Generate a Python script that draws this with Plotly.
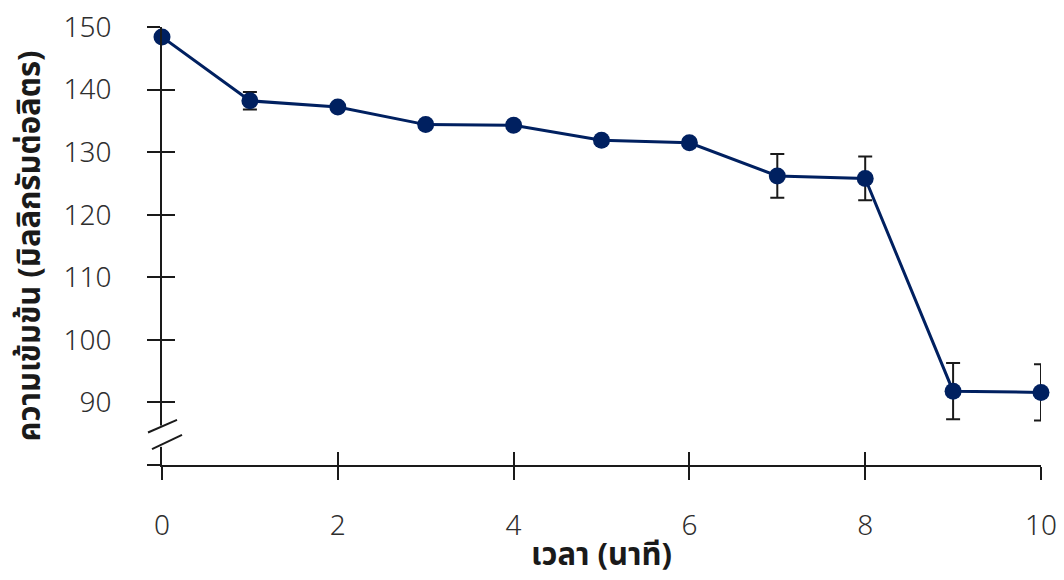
import plotly.graph_objects as go

# Concentration over time (mean ± SD)
time_min = [0, 1, 2, 3, 4, 5, 6, 7, 8, 9, 10]
conc_mg_l = [148.4, 138.2, 137.2, 134.4, 134.3, 131.9, 131.5, 126.2, 125.8, 91.8, 91.6]
conc_sd = [0.6, 1.4, 0.5, 0.5, 0.5, 0.5, 0.5, 3.5, 3.5, 4.5, 4.5]

x_ticks = [0, 2, 4, 6, 8, 10]
y_ticks = [80, 90, 100, 110, 120, 130, 140, 150]
y_tick_text = ["", "90", "100", "110", "120", "130", "140", "150"]

# y range starts at 80 with a broken-axis marker just above it
Y_MIN, Y_MAX = 80, 150
BREAK_LO, BREAK_HI = 82.9, 86.3

NAVY = "#002060"
AXIS = "#1a1a1a"
TICK_FONT = dict(family="Noto Sans, sans-serif", size=28, color="#2e2e2e", weight=300)
TITLE_FONT = dict(family="Noto Sans Thai, Noto Sans, sans-serif", size=31, color="#1a1a1a")


def to_paper(v):
    """Convert a y value to paper units (y axis spans the full domain)."""
    return (v - Y_MIN) / (Y_MAX - Y_MIN)


fig = go.Figure()

fig.add_trace(go.Scatter(
    x=time_min, y=conc_mg_l,
    mode="lines+markers",
    line=dict(color=NAVY, width=3),
    marker=dict(color=NAVY, size=17),
    error_y=dict(type="data", array=conc_sd, visible=True,
                 color=AXIS, thickness=2, width=7),
    cliponaxis=False,
    showlegend=False,
))

# invisible trace to host the secondary (inside-tick) axes
fig.add_trace(go.Scatter(x=[time_min[0]], y=[Y_MIN], xaxis="x2", yaxis="y2",
                         mode="markers", marker=dict(opacity=0),
                         showlegend=False, hoverinfo="skip"))

tick_style = dict(showgrid=False, zeroline=False, tickcolor=AXIS, tickwidth=2,
                  ticklen=13, automargin=False)

fig.update_layout(
    width=1064, height=580,
    margin=dict(l=162, r=23, t=27, b=115),
    paper_bgcolor="white", plot_bgcolor="white",
    xaxis=dict(range=[0, 10], tickvals=x_ticks, ticks="outside", showline=True,
               linecolor=AXIS, linewidth=2,
               tickfont=TICK_FONT, ticklabelstandoff=21,
               title=dict(text="<b>เวลา (นาที)</b>", font=TITLE_FONT, standoff=2),
               **tick_style),
    yaxis=dict(range=[Y_MIN, Y_MAX], tickvals=y_ticks, ticktext=y_tick_text,
               ticks="outside", showline=True, linecolor=AXIS, linewidth=2,
               tickfont=TICK_FONT, ticklabelstandoff=30,
               title=dict(text="<b>ความเข้มข้น (มิลลิกรัมต่อลิตร)</b>", font=TITLE_FONT, standoff=14),
               **tick_style),
    xaxis2=dict(range=[0, 10], tickvals=x_ticks, ticks="inside", overlaying="x",
                showticklabels=False, showline=False, **tick_style),
    yaxis2=dict(range=[Y_MIN, Y_MAX], tickvals=y_ticks, ticks="inside", overlaying="y",
                showticklabels=False, showline=False, **tick_style),
)

# axis break: blank out the axis line, then draw two slanted strokes
brk = dict(xref="paper", yref="paper", xsizemode="pixel", xanchor=0, layer="above")
fig.add_shape(type="rect", x0=-4, x1=4,
              y0=to_paper(BREAK_LO), y1=to_paper(BREAK_HI),
              fillcolor="white", line=dict(width=0), **brk)
fig.add_shape(type="line", x0=-14, x1=15,
              y0=to_paper(BREAK_HI - 1.1), y1=to_paper(BREAK_HI + 0.9),
              line=dict(color=AXIS, width=2), **brk)
fig.add_shape(type="line", x0=-10, x1=20,
              y0=to_paper(BREAK_LO - 0.35), y1=to_paper(BREAK_LO + 1.9),
              line=dict(color=AXIS, width=2), **brk)

fig.write_html("out.html")
